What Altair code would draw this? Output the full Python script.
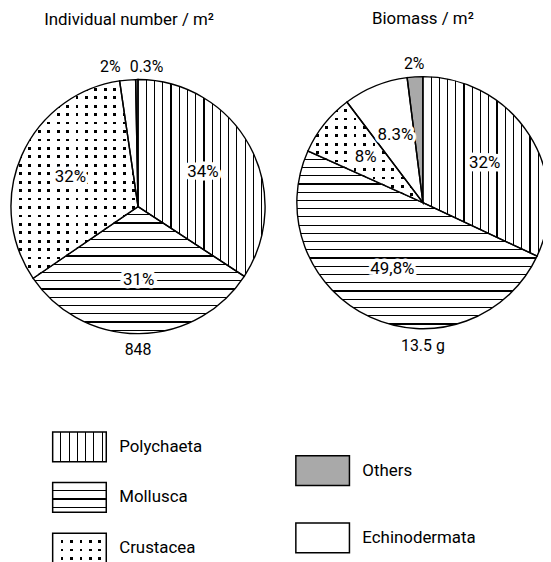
import math
import altair as alt
import pandas as pd

# ---------------- data ----------------
taxa = ["Polychaeta", "Mollusca", "Crustacea", "Echinodermata", "Others"]
number_pct = [34, 31, 32, 2, 0.3]
number_labels = ["34%", "31%", "32%", "2%", "0.3%"]
biomass_pct = [32, 49.8, 8, 8.3, 2]
biomass_labels = ["32%", "49,8%", "8%", "8.3%", "2%"]
pie_titles = ["Individual number / m\u00b2", "Biomass / m\u00b2"]
pie_totals = ["848", "13.5 g"]

# ---------------- style ----------------
FONT = "Roboto"
INK = "black"
GREY = "#a9a9a9"
CLEAR = "rgba(255,255,255,0)"
LINE_GAP = 8.3
LINE_W = 1.2
THETA_SCALE = alt.Scale(domain=[0, 1], range=[0, 2 * math.pi])


def band_gradient(size_px, along_x, spacing, width, ink, paper):
    """Linear gradient with thin sharp bands -> hatching (objectBoundingBox units)."""
    size_px = max(size_px, 1.0)
    stops = [{"offset": 0, "color": paper}]
    k = 1
    while True:
        c = k * spacing
        a = round((c - width / 2) / size_px, 5)
        b = round((c + width / 2) / size_px, 5)
        if b >= 1:
            break
        stops += [
            {"offset": a, "color": paper},
            {"offset": a, "color": ink},
            {"offset": b, "color": ink},
            {"offset": b, "color": paper},
        ]
        k += 1
    stops.append({"offset": 1, "color": paper})
    return {
        "gradient": "linear",
        "x1": 0, "y1": 0,
        "x2": 1 if along_x else 0,
        "y2": 0 if along_x else 1,
        "stops": stops,
    }


def wedge_bbox(a0, a1, r):
    pts = [(0.0, 0.0)]
    angles = [a0, a1] + [c for c in (0, 90, 180, 270, 360) if a0 < c < a1]
    for a in angles:
        t = math.radians(a)
        pts.append((r * math.sin(t), -r * math.cos(t)))
    xs, ys = zip(*pts)
    return max(xs) - min(xs), max(ys) - min(ys)


def pattern_maps(w, h):
    fills = {
        "Polychaeta": band_gradient(w, True, LINE_GAP, LINE_W, INK, "white"),
        "Mollusca": band_gradient(h, False, LINE_GAP, LINE_W, INK, "white"),
        "Crustacea": band_gradient(h, False, 8.5, 2.8, INK, "white"),
        "Echinodermata": "white",
        "Others": GREY,
    }
    masks = {"Crustacea": band_gradient(w, True, 9.5, 2.8, CLEAR, "white")}
    return fills, masks


def fill_rule(fmap, default):
    return {
        "condition": [{"test": f"datum.taxon === '{t}'", "value": f} for t, f in fmap.items()],
        "value": default,
    }


def make_pie(values, labels, title, total, R, W, H, title_dx, title_offset):
    df = pd.DataFrame({"taxon": taxa, "value": values, "label": labels,
                       "k": list(range(len(taxa)))})
    tot = sum(values)
    acc = 0.0
    fill_map, mask_map = {}, {}
    for t, v in zip(taxa, values):
        a0 = acc / tot * 360
        acc += v
        a1 = acc / tot * 360
        w, h = wedge_bbox(a0, a1, R)
        f, m = pattern_maps(w, h)
        fill_map[t] = f[t]
        if t in m:
            mask_map[t] = m[t]

    base = (
        alt.Chart(df)
        .transform_joinaggregate(tot="sum(value)")
        .transform_window(cum="sum(value)", sort=[alt.SortField("k")])
        .transform_calculate(
            start="(datum.cum - datum.value) / datum.tot",
            end="datum.cum / datum.tot",
            mid="(2 * datum.cum - datum.value) / (2 * datum.tot)",
        )
    )
    arcs = base.encode(theta=alt.Theta("start:Q", scale=THETA_SCALE), theta2="end:Q")
    fill = arcs.mark_arc(radius=R, strokeWidth=0).encode(fill=fill_rule(fill_map, "white"))
    mask = arcs.mark_arc(radius=R, stroke=INK, strokeWidth=1.4).encode(
        fill=fill_rule(mask_map, CLEAR))

    big = base.transform_filter(alt.datum.value >= 5).encode(
        theta=alt.Theta("mid:Q", scale=THETA_SCALE), text="label:N")
    halo = big.mark_text(radius=0.58 * R, font=FONT, fontSize=17, stroke="white",
                         strokeWidth=7, strokeJoin="round")
    inner = big.mark_text(radius=0.58 * R, font=FONT, fontSize=17, color=INK)
    layers = [fill, mask, halo, inner]

    small = [t for t, v in zip(taxa, values) if v < 5]
    if len(small) == 1:
        aligns = [("center", 0)]
    else:
        aligns = [("right", -6)] + [("center", -7)] * (len(small) - 2) + [("left", -7)]
    for t, (al, dx) in zip(small, aligns):
        layers.append(
            base.transform_filter(alt.datum.taxon == t)
            .mark_text(radius=R + 13, font=FONT, fontSize=16, color=INK, align=al, dx=dx)
            .encode(theta=alt.Theta("mid:Q", scale=THETA_SCALE), text="label:N")
        )

    tot_df = pd.DataFrame({"total": [total]})
    layers.append(
        alt.Chart(tot_df).mark_text(radius=R + 17, theta=math.pi, font=FONT,
                                    fontSize=16, color=INK).encode(text="total:N")
    )
    return alt.layer(*layers).properties(
        width=W, height=H,
        title=alt.TitleParams(text=title, font=FONT, fontSize=17, fontWeight="normal",
                              color=INK, anchor="middle", frame="group",
                              offset=title_offset, dx=title_dx),
    )


pie_left = make_pie(number_pct, number_labels, pie_titles[0], pie_totals[0],
                    R=128, W=256, H=256, title_dx=-9, title_offset=30)
pie_right = make_pie(biomass_pct, biomass_labels, pie_titles[1], pie_totals[1],
                     R=127, W=240, H=248, title_dx=0, title_offset=28)

# ---------------- legend ----------------
legend_slots = {"Polychaeta": (0, 0), "Mollusca": (0, 1), "Crustacea": (0, 2),
                "Others": (1, 0.47), "Echinodermata": (1, 1.8)}
leg_df = pd.DataFrame({
    "taxon": taxa,
    "col": [legend_slots[t][0] for t in taxa],
    "row": [legend_slots[t][1] for t in taxa],
})
BOX_W, BOX_H = 54, 30
box_shape = f"M-1,{-BOX_H / BOX_W:.4f}H1V{BOX_H / BOX_W:.4f}H-1Z"
lf, lm = pattern_maps(BOX_W, BOX_H)
lbase = alt.Chart(leg_df).encode(
    x=alt.X("col:Q", scale=alt.Scale(domain=[0, 1], range=[69, 314]), axis=None),
    y=alt.Y("row:Q", scale=alt.Scale(domain=[0, 2], range=[27, 129]), axis=None),
)
leg_fill = lbase.mark_point(shape=box_shape, size=BOX_W ** 2, filled=True, opacity=1,
                            strokeWidth=0).encode(fill=fill_rule(lf, "white"))
leg_mask = lbase.mark_point(shape=box_shape, size=BOX_W ** 2, filled=True, opacity=1,
                            stroke=INK, strokeWidth=1.5).encode(fill=fill_rule(lm, CLEAR))
leg_text = lbase.mark_text(align="left", baseline="middle", dx=40, font=FONT,
                           fontSize=17, color=INK).encode(text="taxon:N")
legend = alt.layer(leg_fill, leg_mask, leg_text).properties(width=256, height=120)

chart = alt.concat(
    pie_left, pie_right, legend,
    columns=2, spacing={"row": 87, "column": 39}, bounds="flush",
).properties(
    padding={"left": 0, "top": 0, "right": -9, "bottom": 0},
    background="white",
).configure_view(strokeWidth=0)

chart.save("out.html", embed_options={"renderer": "svg", "actions": False})
